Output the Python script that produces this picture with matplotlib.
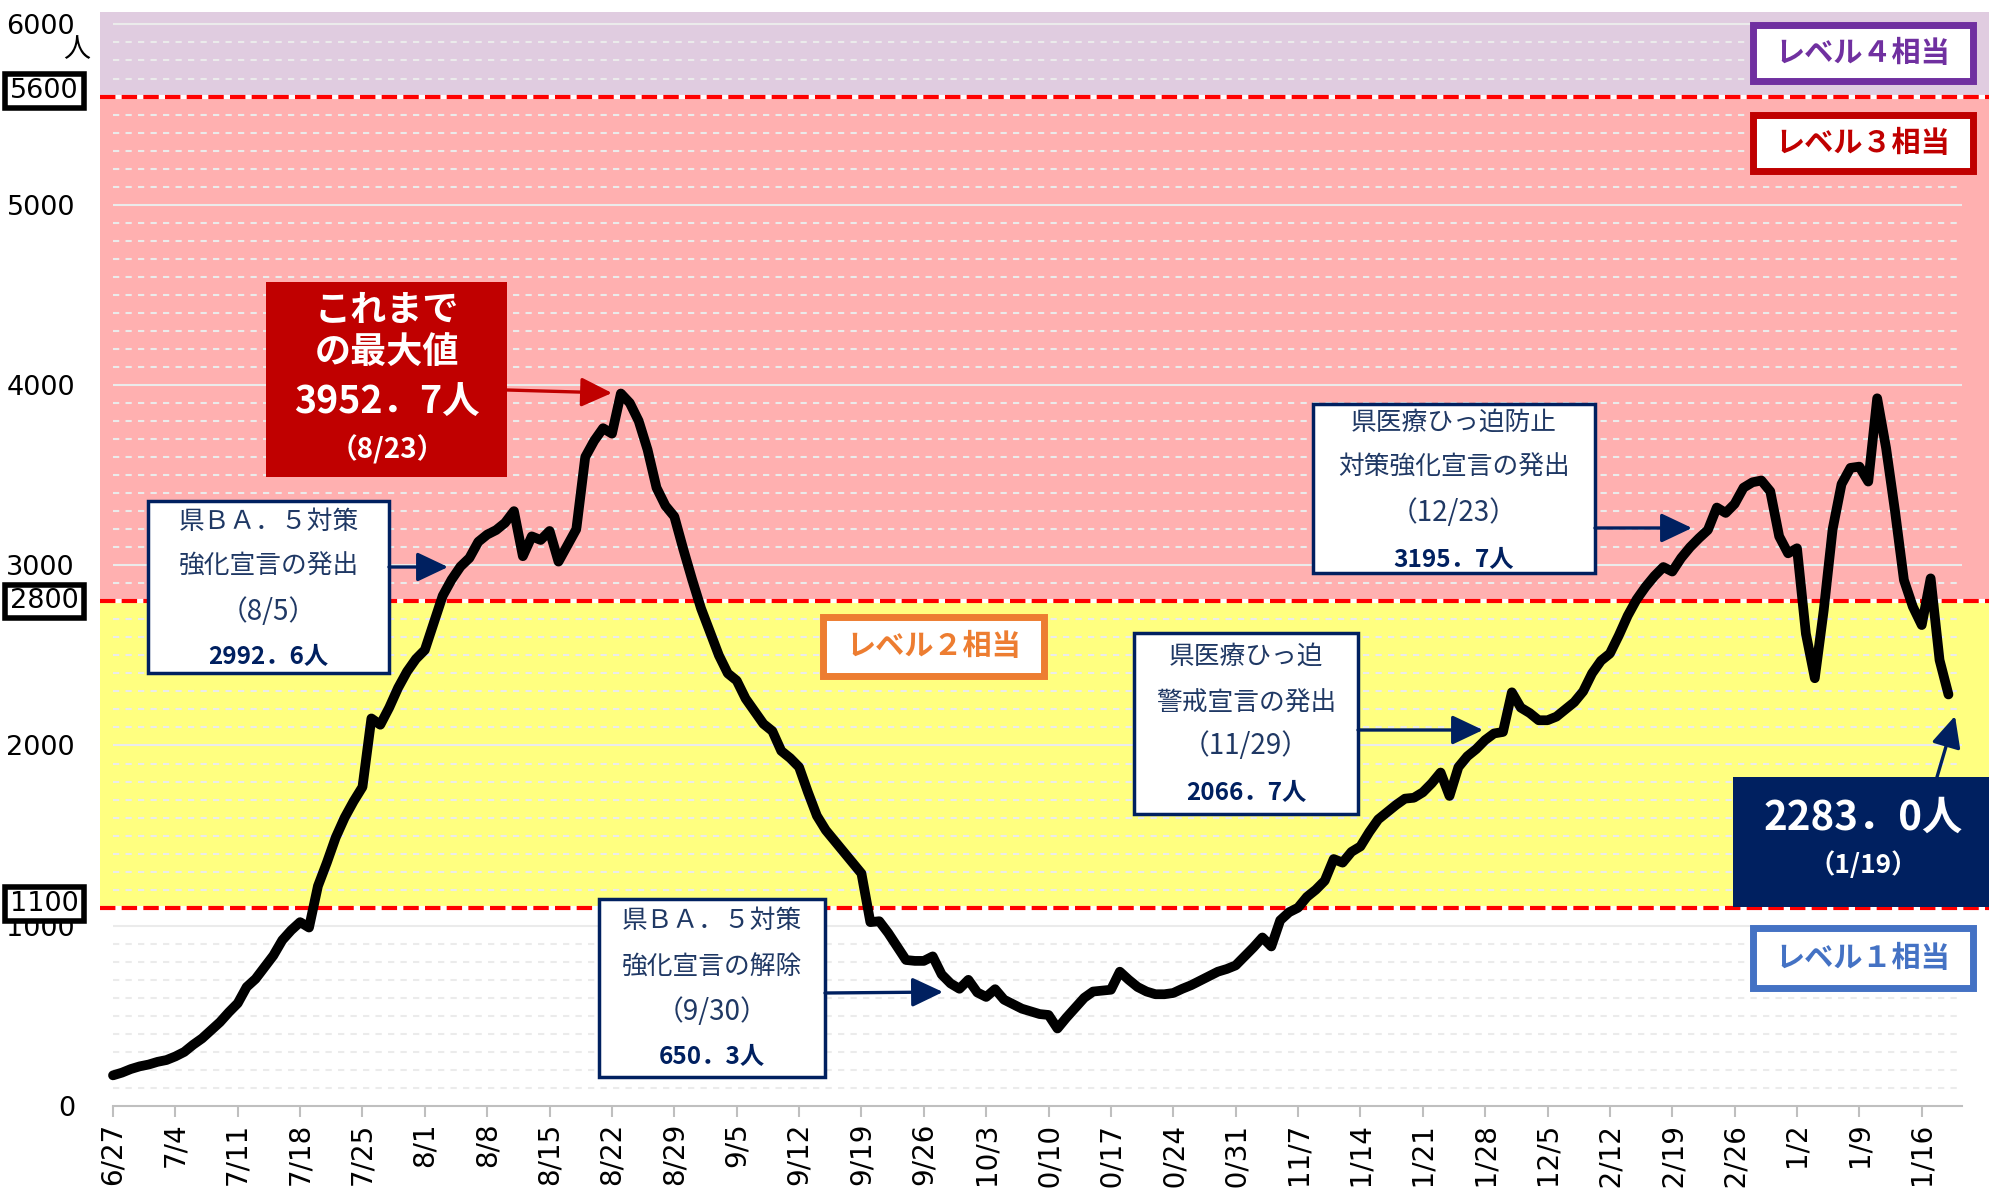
import matplotlib.pyplot as plt
from matplotlib.patches import Rectangle, FancyArrowPatch

plt.rcParams['font.family'] = ['Noto Sans CJK JP', 'DejaVu Sans']

W, H = 1990, 1191

tick_labels = ['6/27', '7/4', '7/11', '7/18', '7/25', '8/1', '8/8', '8/15', '8/22', '8/29',
               '9/5', '9/12', '9/19', '9/26', '10/3', '10/10', '10/17', '10/24', '10/31',
               '11/7', '11/14', '11/21', '11/28', '12/5', '12/12', '12/19', '12/26',
               '1/2', '1/9', '1/16']

# one value per day, 6/27 .. 1/19 (one row = one week)
counts = [
    170, 185, 205, 220, 230, 245, 255,
    275, 300, 340, 375, 420, 465, 520,
    570, 660, 705, 770, 835, 920, 975,
    1020, 990, 1220, 1350, 1490, 1600, 1690,
    1770, 2150, 2115, 2210, 2320, 2410, 2480,
    2530, 2680, 2830, 2920, 2992.6, 3040, 3130,
    3170, 3195, 3235, 3300, 3050, 3160, 3140,
    3190, 3020, 3110, 3200, 3600, 3690, 3760,
    3730, 3952.7, 3900, 3800, 3640, 3430, 3330,
    3270, 3090, 2920, 2760, 2630, 2500, 2400,
    2360, 2260, 2190, 2120, 2080, 1970, 1930,
    1880, 1740, 1610, 1530, 1470, 1410, 1350,
    1290, 1020, 1025, 960, 885, 810, 805,
    805, 830, 730, 680, 650.3, 700, 630,
    605, 648, 590, 565, 540, 525, 510,
    505, 430, 490, 545, 600, 635, 640,
    645, 745, 700, 660, 635, 620, 620,
    627, 650, 670, 695, 720, 745, 760,
    780, 830, 880, 935, 885, 1030, 1075,
    1100, 1160, 1200, 1250, 1370, 1350, 1410,
    1440, 1520, 1590, 1630, 1670, 1705, 1710,
    1740, 1790, 1850, 1720, 1880, 1940, 1980,
    2030, 2066.7, 2075, 2295, 2210, 2180, 2140,
    2140, 2160, 2200, 2240, 2300, 2400, 2470,
    2510, 2610, 2720, 2810, 2880, 2940, 2990,
    2965, 3040, 3100, 3150, 3195.7, 3320, 3290,
    3340, 3430, 3460, 3470, 3410, 3160, 3066,
    3094, 2620, 2373, 2750, 3200, 3450, 3540,
    3547, 3464, 3926, 3650, 3300, 2918, 2770,
    2668, 2927, 2474, 2283.0,
]

level_edges = [0, 1100, 2800, 5600, 6069]
level_colors = ['white', '#FFFF80', '#FFB0B0', '#E0CCE0']
level_lines = [1100, 2800, 5600]

# (day index, text, date) for the announcement boxes
events = [
    (39, '県ＢＡ．５対策\n強化宣言の発出', '8/5'),
    (95, '県ＢＡ．５対策\n強化宣言の解除', '9/30'),
    (155, '県医療ひっ迫\n警戒宣言の発出', '11/29'),
    (179, '県医療ひっ迫防止\n対策強化宣言の発出', '12/23'),
]
peak_idx, peak_date = 57, '8/23'
last_idx, last_date = 206, '1/19'

NAVY = '#002060'


def px(x, y):
    return x / W, 1 - y / H


def fmt(v):
    return f'{v:.1f}'.replace('.', '．') + '人'


fig = plt.figure(figsize=(W / 100, H / 100), dpi=100)
ax = fig.add_axes([100 / W, (H - 1106) / H, 1890 / W, 1094 / H])
ax.set_xlim(-13 / 8.91, 1877 / 8.91)
ax.set_ylim(0, 6069)

for lo, hi, c in zip(level_edges[:-1], level_edges[1:], level_colors):
    ax.axhspan(lo, hi, color=c, zorder=0, lw=0)

minor = [v for v in range(100, 6001, 100) if v % 1000]
major = list(range(1000, 6001, 1000))
ax.hlines(minor, 0, 207.5, colors='#EBEBEB', lw=1.5, linestyles=(0, (3, 3)), zorder=1)
ax.hlines(major, 0, 207.5, colors='#EBEBEB', lw=1.5, zorder=1)

for v in level_lines:
    ax.axhline(v, color='white', lw=3, zorder=2)
    ax.axhline(v, color='#FF0000', lw=3, ls=(0, (3.7, 1.5)), zorder=2.5)

ax.plot(range(len(counts)), counts, color='black', lw=7,
        solid_joinstyle='round', solid_capstyle='round', zorder=3)

ax.set_xticks(range(0, len(counts), 7))
ax.set_xticklabels(tick_labels, rotation=90, fontfamily='DejaVu Sans', fontsize=20)
ax.tick_params(axis='x', length=8, width=1.5, color='#BFBFBF', pad=4)
ax.set_yticks(major[::-1] + [0])
ax.set_yticklabels([str(v) for v in major[::-1]] + ['0'], fontfamily='DejaVu Sans', fontsize=19.5)
ax.tick_params(axis='y', length=0, pad=18)
for s in ['top', 'right', 'left']:
    ax.spines[s].set_visible(False)
ax.spines['bottom'].set_color('#BFBFBF')
ax.spines['bottom'].set_linewidth(1.5)
ax.spines['bottom'].set_bounds(0, 207.5)


def box(x0, y0, x1, y1, fc, ec=None, lw=0):
    fig.add_artist(Rectangle(px(x0, y1), (x1 - x0) / W, (y1 - y0) / H,
                             transform=fig.transFigure, fc=fc,
                             ec=ec if ec else fc, lw=lw))


def label(x, y, s, size, color, weight='normal', family=None):
    kw = {'fontfamily': family} if family else {}
    fig.text(*px(x, y), s, ha='center', va='center', fontsize=size,
             color=color, fontweight=weight, **kw)


def arrow(x0, y0, x1, y1, color):
    fig.add_artist(FancyArrowPatch(px(x0, y0), px(x1, y1), transform=fig.transFigure,
                                   arrowstyle='-|>,head_length=0.95,head_width=0.45',
                                   mutation_scale=20, lw=2.4, color=color,
                                   shrinkA=0, shrinkB=0))


# boxed threshold labels on the y axis
for v, (y0, y1) in zip(level_lines, [(887, 921), (585, 618), (74, 108)]):
    box(5, y0, 84, y1, 'white', 'black', 4)
    label(44, (y0 + y1) / 2, str(v), 19.5, 'black', family='DejaVu Sans')
label(77, 50, '人', 19.5, 'black')

# level labels
for text, col, (x0, y0, x1, y1) in [
        ('レベル４相当', '#7030A0', (1753, 25, 1973, 81)),
        ('レベル３相当', '#C00000', (1753, 115, 1973, 171)),
        ('レベル２相当', '#ED7D31', (823, 617, 1044, 676)),
        ('レベル１相当', '#4472C4', (1753, 928, 1973, 988))]:
    box(x0, y0, x1, y1, 'white', col, 5)
    label((x0 + x1) / 2, (y0 + y1) / 2, text, 21, col, 'bold')

# peak
box(266, 282, 507, 477, '#C00000')
label(387, 310, 'これまで', 26, 'white', 'bold')
label(387, 353, 'の最大値', 26, 'white', 'bold')
label(387, 402, fmt(counts[peak_idx]), 27, 'white', 'bold')
label(387, 450, f'（{peak_date}）', 20, 'white', 'bold')
arrow(507, 390, 612, 393, '#C00000')

# announcement boxes
layout = [
    ((148, 501, 389, 673), (522, 567, 612, 657), (389, 567, 448, 567)),
    ((599, 899, 825, 1077), (921, 968, 1012, 1057), (825, 993, 943, 992)),
    ((1134, 633, 1358, 814), (657, 704, 746, 793), (1358, 730, 1483, 730)),
    ((1313, 404, 1595, 573), (423, 468, 513, 560), (1595, 528, 1692, 528)),
]
for (idx, text, date), (rect, ys, arr) in zip(events, layout):
    x0, y0, x1, y1 = rect
    box(x0, y0, x1, y1, 'white', NAVY, 2.5)
    cx = (x0 + x1) / 2
    l1, l2 = text.split('\n')
    label(cx, ys[0], l1, 18.5, '#1F3864')
    label(cx, ys[1], l2, 18.5, '#1F3864')
    label(cx, ys[2], f'（{date}）', 20, '#1F3864')
    label(cx, ys[3], fmt(counts[idx]), 17.5, NAVY, 'bold')
    arrow(*arr, NAVY)

# latest value
box(1733, 777, 1995, 907, NAVY)
label(1863, 818, fmt(counts[last_idx]), 29, 'white', 'bold')
label(1863, 865, f'（{last_date}）', 19, 'white', 'bold')
arrow(1937, 777, 1955, 716, NAVY)

fig.savefig('out.png', dpi=100)
